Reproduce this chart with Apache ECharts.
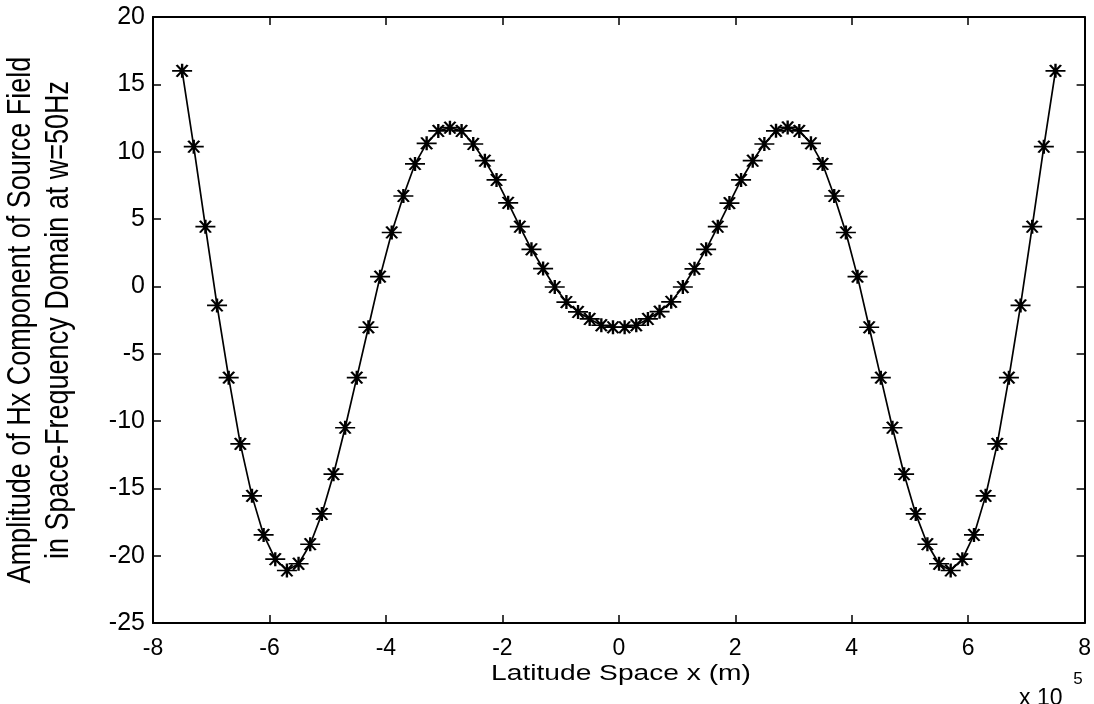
<!DOCTYPE html>
<html><head><meta charset="utf-8">
<script src="https://cdn.jsdelivr.net/npm/echarts@6/dist/echarts.min.js"></script>
<style>html,body{margin:0;padding:0;background:#fff}#c{width:1094px;height:704px}</style>
</head><body><div id="c"></div>
<script>
// x in units of 1e5 m
const xValues = [-7.5,-7.3,-7.1,-6.9,-6.7,-6.5,-6.3,-6.1,-5.9,-5.7,-5.5,-5.3,-5.1,-4.9,-4.7,-4.5,-4.3,-4.1,-3.9,-3.7,
  -3.5,-3.3,-3.1,-2.9,-2.7,-2.5,-2.3,-2.1,-1.9,-1.7,-1.5,-1.3,-1.1,-0.9,-0.7,-0.5,-0.3,-0.1,
  0.1,0.3,0.5,0.7,0.9,1.1,1.3,1.5,1.7,1.9,2.1,2.3,2.5,2.7,2.9,3.1,3.3,3.5,3.7,3.9,
  4.1,4.3,4.5,4.7,4.9,5.1,5.3,5.5,5.7,5.9,6.1,6.3,6.5,6.7,6.9,7.1,7.3,7.5];
const yValues = [16.0,10.37,4.43,-1.42,-6.78,-11.7,-15.56,-18.46,-20.26,-21.1,-20.6,-19.15,-16.9,-13.95,-10.5,-6.78,-3.04,0.72,4.0,6.71,
  9.09,10.62,11.54,11.78,11.54,10.57,9.33,7.9,6.2,4.43,2.75,1.32,-0.05,-1.17,-1.9,-2.42,-2.89,-3.04,
  -3.04,-2.89,-2.42,-1.88,-1.15,-0.05,1.3,2.75,4.43,6.18,7.9,9.33,10.57,11.55,11.8,11.54,10.62,9.09,6.71,4.0,
  0.72,-3.04,-6.78,-10.5,-13.95,-16.9,-19.15,-20.6,-21.1,-20.26,-18.46,-15.56,-11.7,-6.78,-1.42,4.43,10.37,16.0];
const xTicks = [-8,-6,-4,-2,0,2,4,6,8];
const yTicks = [-25,-20,-15,-10,-5,0,5,10,15,20];
const xLabel = 'Latitude Space x (m)';
const yLabel = 'Amplitude of Hx Component of Source Field\nin Space-Frequency Domain at w=50Hz';
const xScaleText = 'x 10';
const xScaleExp = '5';

const FONT = "'Liberation Sans', Arial, Helvetica, sans-serif";
const chart = echarts.init(document.getElementById('c'), null, {renderer: 'canvas'});

function axisBase(min, max, interval, pos, showLabel) {
  return {
    type: 'value', min: min, max: max, interval: interval, position: pos,
    splitLine: {show: false},
    axisLine: {show: true, onZero: false, lineStyle: {color: '#000', width: 2}},
    axisTick: {show: true, inside: true, length: 8, lineStyle: {color: '#000', width: 1.5}},
    axisLabel: {show: showLabel, color: '#000', fontFamily: FONT, fontSize: 23, margin: 10}
  };
}

const xa0 = axisBase(xTicks[0], xTicks[xTicks.length-1], xTicks[1]-xTicks[0], 'bottom', true);
xa0.axisLabel.margin = 14;
const xa1 = axisBase(xTicks[0], xTicks[xTicks.length-1], xTicks[1]-xTicks[0], 'top', false);
const ya0 = axisBase(yTicks[0], yTicks[yTicks.length-1], yTicks[1]-yTicks[0], 'left', true);
ya0.axisLabel.margin = 8;
ya0.axisLabel.fontSize = 25;
const ya1 = axisBase(yTicks[0], yTicks[yTicks.length-1], yTicks[1]-yTicks[0], 'right', false);

const option = {
  backgroundColor: '#fff',
  animation: false,
  grid: {left: 153, right: 8, top: 17, bottom: 81, containLabel: false},
  xAxis: [xa0, xa1],
  yAxis: [ya0, ya1],
  series: [{
    type: 'line',
    xAxisIndex: 0, yAxisIndex: 0,
    data: xValues.map((x, i) => [x, yValues[i]]),
    symbol: 'path://M-10,0L10,0M0,-6.5L0,6.5M-5.5,-5.5L5.5,5.5M-5.5,5.5L5.5,-5.5',
    symbolSize: [20, 14],
    showAllSymbol: true,
    silent: true,
    clip: false,
    lineStyle: {color: '#000', width: 1.7},
    itemStyle: {color: '#000', borderColor: '#000', borderWidth: 2}
  }],
  graphic: [
    {type: 'text', x: 621, y: 674, scaleX: 1.28, scaleY: 1,
     style: {text: xLabel, fontFamily: FONT, fontSize: 22, fill: '#000', textAlign: 'center', textVerticalAlign: 'middle'}},
    {type: 'text', x: 40, y: 320, rotation: Math.PI/2, scaleX: 1, scaleY: 1.2,
     style: {text: yLabel, fontFamily: FONT, fontSize: 27, lineHeight: 32, fill: '#000', textAlign: 'center', textVerticalAlign: 'middle'}},
    {type: 'text', x: 1019, y: 687,
     style: {text: xScaleText, fontFamily: FONT, fontSize: 23, fill: '#000', textAlign: 'left', textVerticalAlign: 'top'}},
    {type: 'text', x: 1078, y: 679,
     style: {text: xScaleExp, fontFamily: FONT, fontSize: 17, fill: '#000', textAlign: 'center', textVerticalAlign: 'middle'}}
  ]
};
chart.setOption(option);
</script>
</body></html>
